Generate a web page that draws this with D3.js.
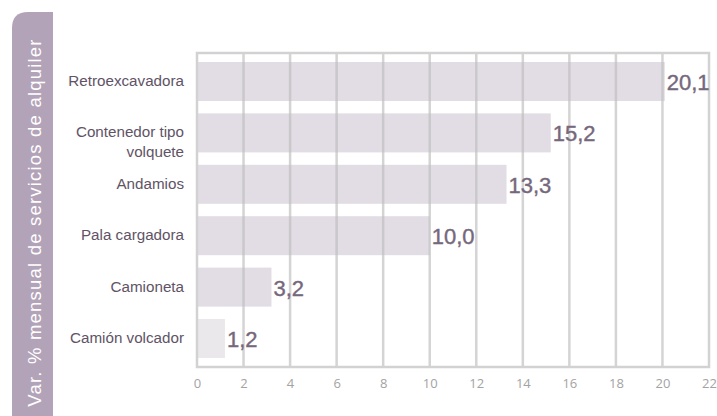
<!DOCTYPE html>
<html>
<head>
<meta charset="utf-8">
<script src="https://cdn.jsdelivr.net/npm/d3@7"></script>
<style>
  html, body { margin: 0; padding: 0; background: #fff; }
  svg { display: block; }
</style>
</head>
<body>
<svg id="chart" width="717" height="416"></svg>
<script>
const categories = [
  ["Retroexcavadora"],
  ["Contenedor tipo", "volquete"],
  ["Andamios"],
  ["Pala cargadora"],
  ["Camioneta"],
  ["Camión volcador"]
];
const values = [20.1, 15.2, 13.3, 10.0, 3.2, 1.2];
const valueLabels = ["20,1", "15,2", "13,3", "10,0", "3,2", "1,2"];
const ticks = [0, 2, 4, 6, 8, 10, 12, 14, 16, 18, 20, 22];
const axisTitle = "Var. % mensual de servicios de alquiler";

(function () {
const svg = d3.select("#chart");
const pL = 197, pR = 709, pT = 53, pB = 367;

const x = d3.scaleLinear().domain([0, 22]).range([pL, pR]);
const y = d3.scaleBand().domain(d3.range(categories.length))
  .range([pT, pB]).paddingInner(0.241).paddingOuter(0.175);

// Left title box with rounded top-left corner
const bx = 12, bw = 41, by = 12, bh = 416 - 12 + 10, r = 16;
svg.append("path")
  .attr("d", `M${bx},${by + r} Q${bx},${by} ${bx + r},${by} L${bx + bw},${by} L${bx + bw},${by + bh} L${bx},${by + bh} Z`)
  .attr("fill", "#b3a3b9");
svg.append("text")
  .attr("transform", `translate(40.5,222.5) rotate(-90)`)
  .attr("text-anchor", "middle")
  .attr("font-family", "Liberation Sans, Arial, sans-serif")
  .attr("font-size", 18.5)
  .attr("letter-spacing", 1.2)
  .attr("fill", "#ffffff")
  .text(axisTitle);

// Bars
svg.append("g").selectAll("rect").data(values).join("rect")
  .attr("x", x(0))
  .attr("y", (d, i) => y(i))
  .attr("width", d => x(d) - x(0))
  .attr("height", y.bandwidth())
  .attr("fill", (d, i) => i === values.length - 1 ? "#ebe8ec" : "#e2dde4");

// Grid lines (on top, semi transparent)
svg.append("g").selectAll("line").data(ticks.slice(1, -1)).join("line")
  .attr("x1", d => x(d)).attr("x2", d => x(d))
  .attr("y1", pT).attr("y2", pB)
  .attr("stroke", "#bdbdbd").attr("stroke-opacity", 0.65)
  .attr("stroke-width", 2.5);

// Frame
svg.append("rect")
  .attr("x", x(0)).attr("y", pT)
  .attr("width", x(22) - x(0)).attr("height", pB - pT)
  .attr("fill", "none").attr("stroke", "#d2d2d2").attr("stroke-width", 2.5);

// Tick labels
const axis = d3.axisBottom(x).tickValues(ticks).tickSize(0).tickPadding(0);
const ag = svg.append("g").attr("transform", `translate(0,${pB + 11.5})`).call(axis);
ag.select(".domain").remove();
ag.selectAll("text")
  .attr("font-family", "Open Sans, Liberation Sans, sans-serif")
  .attr("font-size", 13)
  .attr("fill", "#a3a3a3");

// Category labels
const cg = svg.append("g");
categories.forEach((lines, i) => {
  const t = cg.append("text")
    .attr("text-anchor", "end")
    .attr("font-family", "Liberation Sans, Arial, sans-serif")
    .attr("font-size", 15.2)
    .attr("fill", "#615366")
    .attr("x", 184)
    .attr("y", y(i) + y.bandwidth() / 2 + (lines.length > 1 ? 4.5 : 4.5));
  lines.forEach((l, j) => {
    t.append("tspan").attr("x", 184).attr("dy", j === 0 ? 0 : 19.7).text(l);
  });
});

// Value labels
svg.append("g").selectAll("text").data(values).join("text")
  .attr("x", d => x(d) + 2)
  .attr("y", (d, i) => y(i) + y.bandwidth() / 2 + 8.5)
  .attr("font-family", "Liberation Sans, Arial, sans-serif")
  .attr("font-size", 22)
  .attr("fill", "#76687c")
  .attr("stroke", "#76687c")
  .attr("stroke-width", 0.4)
  .text((d, i) => valueLabels[i]);
})();
</script>
</body>
</html>
